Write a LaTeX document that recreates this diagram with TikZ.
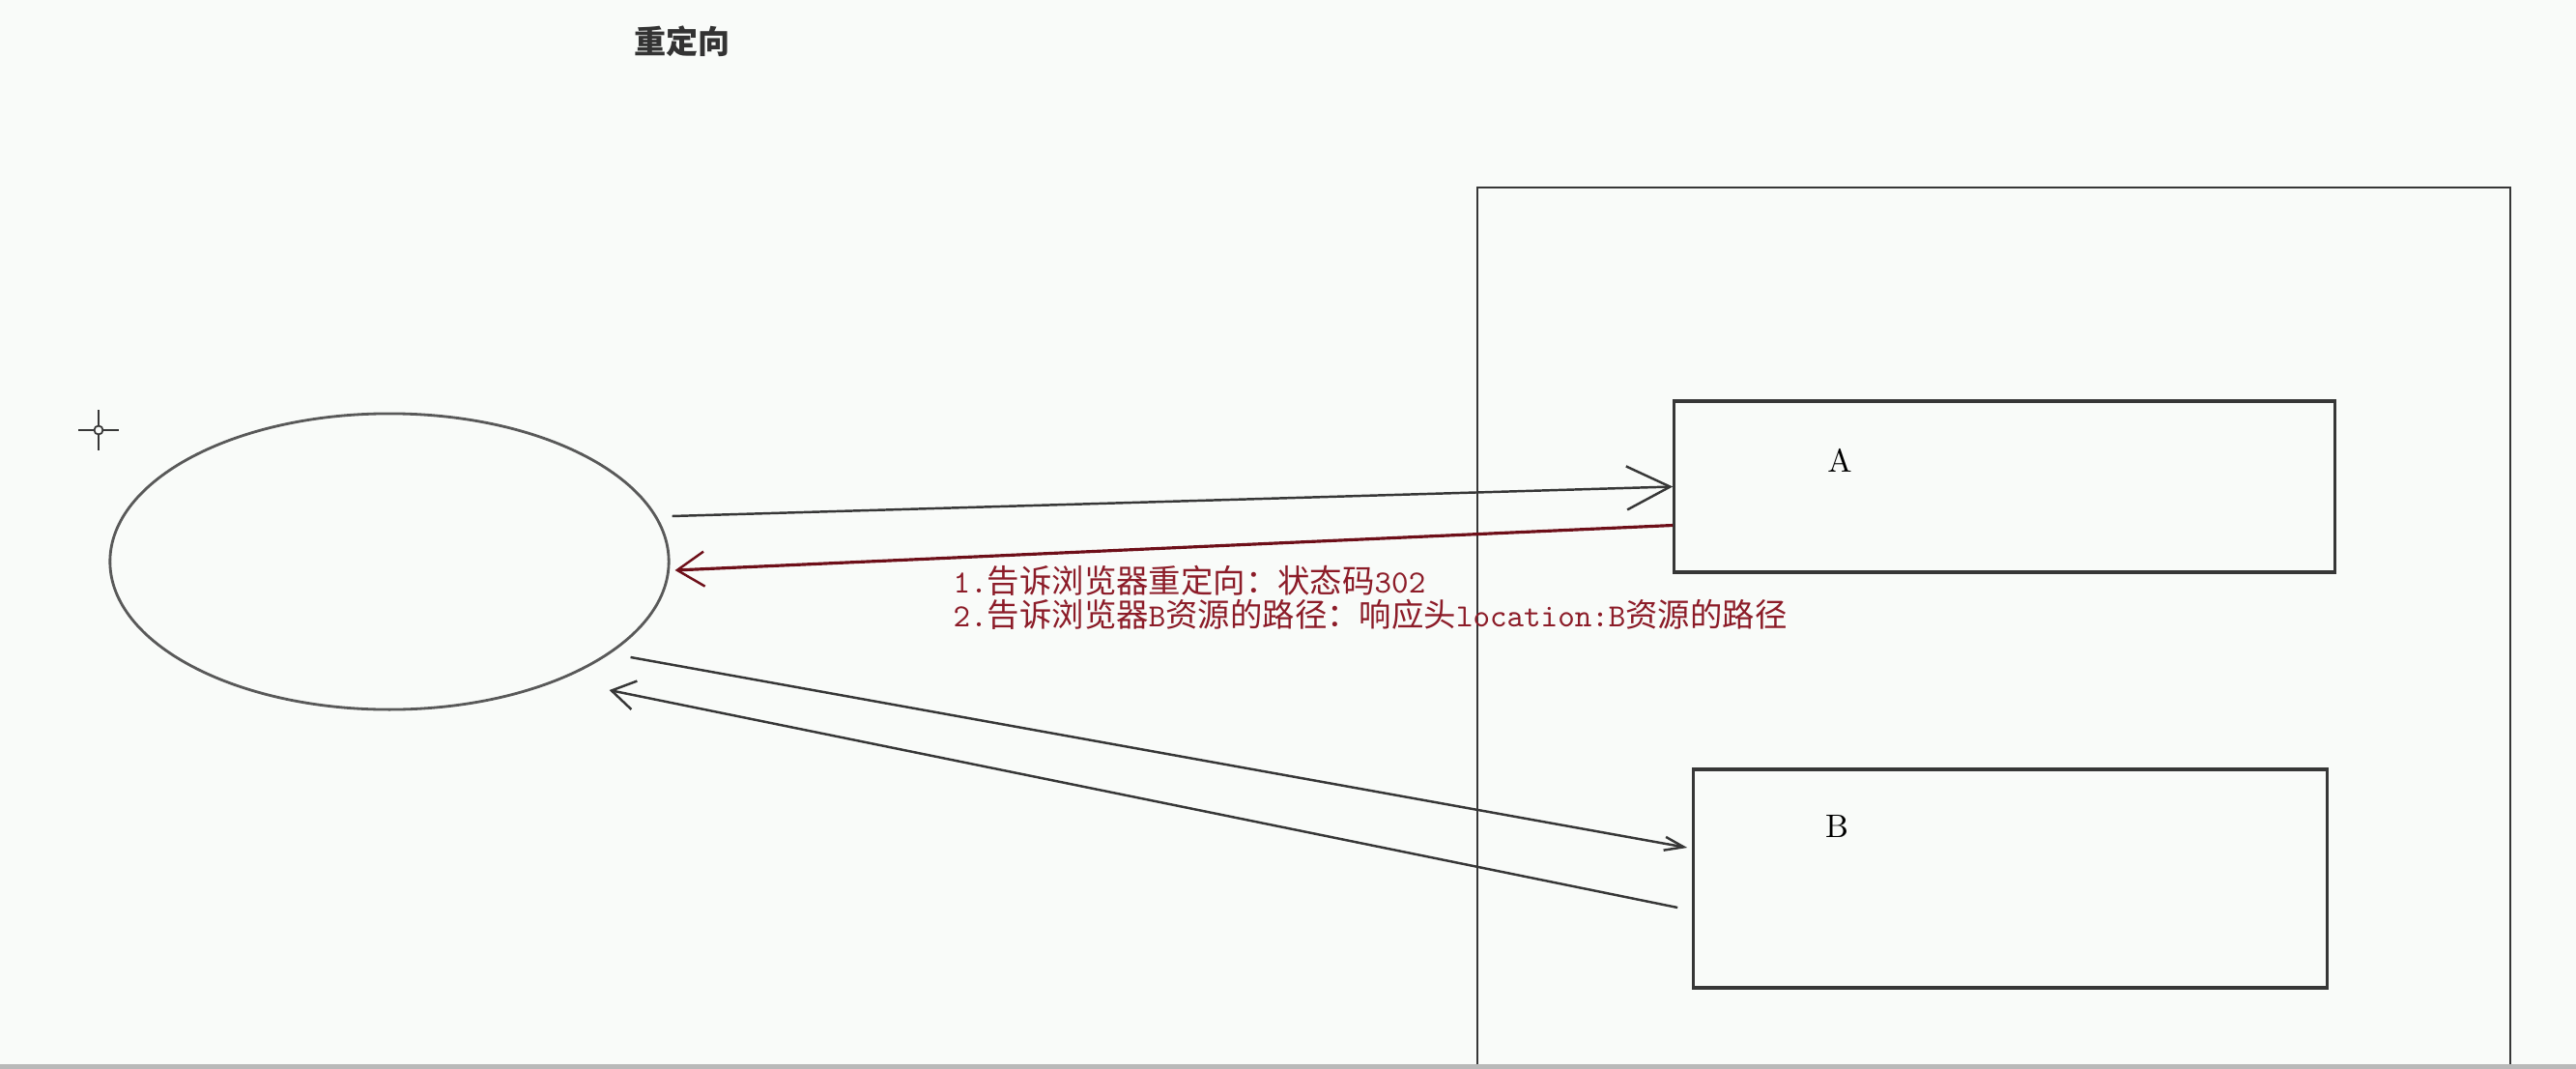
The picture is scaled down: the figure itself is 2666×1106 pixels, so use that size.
\documentclass[tikz,border=0pt]{standalone}
\usepackage{fontspec}
\newfontfamily\cjk{Noto Sans CJK SC}
\usetikzlibrary{arrows.meta,shapes.geometric,calc}
\definecolor{bgc}{RGB}{249,251,249}
\definecolor{linec}{RGB}{55,55,55}
\definecolor{redtxt}{RGB}{140,28,40}
\definecolor{redline}{RGB}{110,15,25}
\tikzset{
  boxnode/.style={draw=linec,line width=0.9pt,inner sep=0pt},
  conn/.style={draw=linec,line width=0.7pt},
  bigarrow/.style={conn,-{Straight Barb[length=4.5mm,width=4.5mm,line width=0.7pt]}},
  midarrow/.style={conn,-{Straight Barb[length=2.4mm,width=3mm,line width=0.7pt]}},
  smallarrow/.style={conn,-{Straight Barb[length=2mm,width=1.4mm,line width=0.7pt]}},
  redarrow/.style={draw=redline,line width=0.9pt,-{Straight Barb[length=2.8mm,width=3.6mm,line width=0.7pt]}},
  lbl/.style={font=\fontsize{9.6pt}{10pt}\selectfont,text=black,inner sep=0pt},
}
\begin{document}
\begin{tikzpicture}[x=0.01cm,y=-0.01cm]
\fill[bgc] (0,0) rectangle (2666,1106);
\useasboundingbox (0,0) rectangle (2666,1106);
\fill[gray!55] (0,1101) rectangle (2666,1106);

% title
\node[inner sep=0pt,text=black!80,font=\cjk\bfseries\fontsize{9.4pt}{10pt}\selectfont] (title) at (706,43) {重定向};

% cursor
\draw[linec,line width=0.7pt] (81,445) -- (97,445) (107,445) -- (123,445) (102,424) -- (102,440) (102,450) -- (102,466);
\draw[linec,line width=0.5pt] (102,445) circle[radius=4.5];

% server frame (open at bottom)
\draw[linec,line width=0.8pt] (1529,1101) -- (1529,194) -- (2598,194) -- (2598,1101);

% browser
\node[ellipse,draw=black!65,line width=0.8pt,minimum width=5.78cm,minimum height=3.06cm,inner sep=0pt] (browser) at (403,581) {};

% boxes
\node[boxnode,minimum width=6.83cm,minimum height=1.77cm] (A) at (2074.5,503.5) {};
\node[boxnode,minimum width=6.55cm,minimum height=2.26cm] (B) at (2080.5,909) {};
\node[lbl] (Alabel) at (1904,476) {A};
\node[lbl] (Blabel) at (1901,855) {B};

% connectors
\draw[bigarrow] ($(browser.east)+(2,-47)$) -- (A.west);
\draw[redarrow] ($(A.west)+(0,40)$) -- ($(browser.east)+(5,9)$);
\draw[smallarrow] ($(browser.east)+(-41,99)$) -- ($(B.west)+(-5,-32)$);
\draw[midarrow] ($(B.west)+(-15,30)$) -- ($(browser.east)+(-63,133)$);

% red note
\node[anchor=north west,inner sep=0pt,text=redtxt,align=left,
      font=\fontsize{9.5pt}{10pt}\selectfont] (note) at (986,584)
  {{\ttfamily 1.}{\cjk 告诉浏览器重定向：状态码}{\ttfamily 302}\\
   {\ttfamily 2.}{\cjk 告诉浏览器}{\ttfamily B}{\cjk 资源的路径：响应头}{\ttfamily location:B}{\cjk 资源的路径}};
\end{tikzpicture}
\end{document}
